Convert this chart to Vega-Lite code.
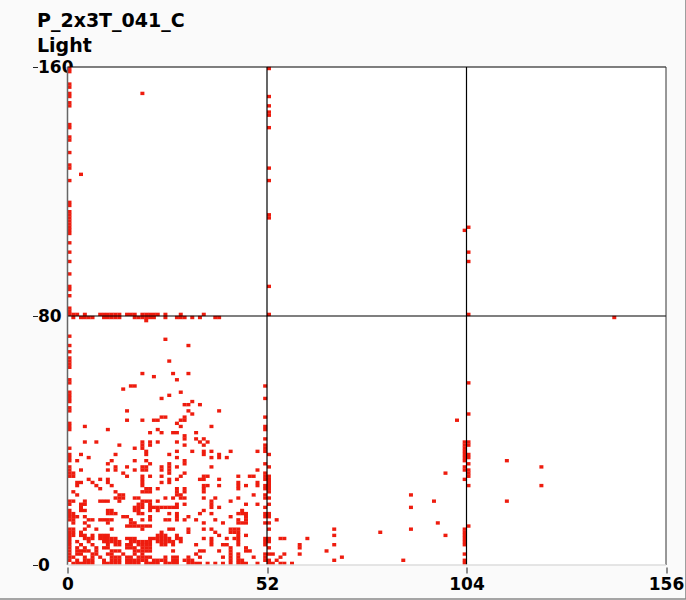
{"$schema":"https://vega.github.io/schema/vega-lite/v6.json","width":598.5,"height":498,"autosize":"none","padding":{"left":67.5,"top":67,"right":20,"bottom":35},"background":"#fafafa","title":{"text":["P_2x3T_041_C","Light"],"anchor":"start","frame":"group","dx":-30.5,"offset":-76,"font":"DejaVu Sans","fontSize":19,"fontWeight":"bold","color":"#000000","lineHeight":25,"baseline":"bottom"},"config":{"view":{"stroke":null}},
"layer":[
{"mark":{"type":"rect","fill":"#ffffff","clip":false},"data":{"values":[{"a":0,"b":156,"c":0,"d":160}]},"encoding":{"x":{"field":"a","type":"quantitative","scale":{"domain":[0,156],"nice":false,"zero":false},"axis":{"values":[0,52,104,156],"title":null,"grid":false,"domain":false,"offset":2,"tickSize":6,"tickColor":"#222222","labelFont":"DejaVu Sans","labelFontWeight":"bold","labelFontSize":17,"labelColor":"#000000","labelPadding":3,"labelFlush":false,"labelOverlap":false,"zindex":0}},"x2":{"field":"b"},"y":{"field":"c","type":"quantitative","scale":{"domain":[0,160],"nice":false,"zero":false},"axis":{"values":[0,80,160],"title":null,"grid":false,"domain":false,"offset":30,"tickSize":5,"tickColor":"#222222","labelFont":"DejaVu Sans","labelFontWeight":"bold","labelFontSize":17,"labelColor":"#000000","labelAlign":"left","labelPadding":-5,"labelFlush":false,"labelOverlap":false,"zindex":0}},"y2":{"field":"d"}}},
{"mark":{"type":"rect","width":4.0,"height":3.4,"xOffset":2.0,"yOffset":-1.6,"fill":"#ee1c0e","stroke":null},"data":{"values":[
{"c":1,"r":0},{"c":2,"r":0},{"c":3,"r":0},{"c":4,"r":0},{"c":5,"r":0},{"c":6,"r":0},{"c":9,"r":0},{"c":10,"r":0},{"c":11,"r":0},{"c":12,"r":0},{"c":13,"r":0},{"c":15,"r":0},{"c":16,"r":0},{"c":17,"r":0},{"c":18,"r":0},{"c":20,"r":0},{"c":21,"r":0},{"c":22,"r":0},{"c":23,"r":0},{"c":25,"r":0},{"c":26,"r":0},{"c":27,"r":0},{"c":28,"r":0},{"c":31,"r":0},{"c":32,"r":0},{"c":33,"r":0},{"c":34,"r":0},{"c":36,"r":0},{"c":38,"r":0},{"c":40,"r":0},{"c":42,"r":0},{"c":44,"r":0},{"c":45,"r":0},{"c":46,"r":0},{"c":49,"r":0},{"c":52,"r":0},{"c":53,"r":0},{"c":55,"r":0},{"c":56,"r":0},{"c":58,"r":0},{"c":103,"r":0},
{"c":0,"r":1},{"c":2,"r":1},{"c":4,"r":1},{"c":5,"r":1},{"c":6,"r":1},{"c":9,"r":1},{"c":11,"r":1},{"c":12,"r":1},{"c":13,"r":1},{"c":15,"r":1},{"c":16,"r":1},{"c":17,"r":1},{"c":18,"r":1},{"c":19,"r":1},{"c":20,"r":1},{"c":22,"r":1},{"c":23,"r":1},{"c":24,"r":1},{"c":25,"r":1},{"c":27,"r":1},{"c":28,"r":1},{"c":30,"r":1},{"c":31,"r":1},{"c":32,"r":1},{"c":42,"r":1},{"c":44,"r":1},{"c":45,"r":1},{"c":51,"r":1},{"c":52,"r":1},{"c":54,"r":1},{"c":69,"r":1},{"c":87,"r":1},{"c":103,"r":1},
{"c":0,"r":2},{"c":1,"r":2},{"c":4,"r":2},{"c":6,"r":2},{"c":8,"r":2},{"c":11,"r":2},{"c":12,"r":2},{"c":13,"r":2},{"c":15,"r":2},{"c":16,"r":2},{"c":18,"r":2},{"c":19,"r":2},{"c":20,"r":2},{"c":21,"r":2},{"c":25,"r":2},{"c":27,"r":2},{"c":28,"r":2},{"c":31,"r":2},{"c":34,"r":2},{"c":40,"r":2},{"c":42,"r":2},{"c":44,"r":2},{"c":48,"r":2},{"c":51,"r":2},{"c":55,"r":2},{"c":71,"r":2},
{"c":0,"r":3},{"c":2,"r":3},{"c":3,"r":3},{"c":6,"r":3},{"c":7,"r":3},{"c":10,"r":3},{"c":11,"r":3},{"c":14,"r":3},{"c":17,"r":3},{"c":19,"r":3},{"c":33,"r":3},{"c":42,"r":3},{"c":44,"r":3},{"c":51,"r":3},{"c":52,"r":3},{"c":53,"r":3},{"c":56,"r":3},{"c":60,"r":3},{"c":103,"r":3},
{"c":0,"r":4},{"c":2,"r":4},{"c":3,"r":4},{"c":4,"r":4},{"c":5,"r":4},{"c":7,"r":4},{"c":11,"r":4},{"c":12,"r":4},{"c":13,"r":4},{"c":17,"r":4},{"c":18,"r":4},{"c":19,"r":4},{"c":20,"r":4},{"c":21,"r":4},{"c":27,"r":4},{"c":34,"r":4},{"c":35,"r":4},{"c":39,"r":4},{"c":42,"r":4},{"c":46,"r":4},{"c":47,"r":4},{"c":67,"r":4},
{"c":0,"r":5},{"c":2,"r":5},{"c":4,"r":5},{"c":7,"r":5},{"c":9,"r":5},{"c":10,"r":5},{"c":15,"r":5},{"c":16,"r":5},{"c":17,"r":5},{"c":19,"r":5},{"c":20,"r":5},{"c":21,"r":5},{"c":42,"r":5},{"c":46,"r":5},{"c":52,"r":5},{"c":60,"r":5},
{"c":0,"r":6},{"c":3,"r":6},{"c":6,"r":6},{"c":10,"r":6},{"c":12,"r":6},{"c":13,"r":6},{"c":15,"r":6},{"c":16,"r":6},{"c":18,"r":6},{"c":19,"r":6},{"c":20,"r":6},{"c":21,"r":6},{"c":24,"r":6},{"c":25,"r":6},{"c":27,"r":6},{"c":33,"r":6},{"c":37,"r":6},{"c":40,"r":6},{"c":41,"r":6},{"c":44,"r":6},{"c":51,"r":6},{"c":60,"r":6},{"c":69,"r":6},{"c":103,"r":6},
{"c":0,"r":7},{"c":2,"r":7},{"c":5,"r":7},{"c":9,"r":7},{"c":10,"r":7},{"c":11,"r":7},{"c":12,"r":7},{"c":13,"r":7},{"c":16,"r":7},{"c":17,"r":7},{"c":18,"r":7},{"c":19,"r":7},{"c":20,"r":7},{"c":21,"r":7},{"c":23,"r":7},{"c":24,"r":7},{"c":25,"r":7},{"c":26,"r":7},{"c":27,"r":7},{"c":29,"r":7},{"c":37,"r":7},{"c":44,"r":7},{"c":51,"r":7},{"c":52,"r":7},{"c":103,"r":7},
{"c":0,"r":8},{"c":4,"r":8},{"c":5,"r":8},{"c":6,"r":8},{"c":8,"r":8},{"c":9,"r":8},{"c":10,"r":8},{"c":11,"r":8},{"c":12,"r":8},{"c":15,"r":8},{"c":16,"r":8},{"c":17,"r":8},{"c":21,"r":8},{"c":22,"r":8},{"c":23,"r":8},{"c":24,"r":8},{"c":25,"r":8},{"c":26,"r":8},{"c":28,"r":8},{"c":29,"r":8},{"c":35,"r":8},{"c":37,"r":8},{"c":41,"r":8},{"c":43,"r":8},{"c":44,"r":8},{"c":51,"r":8},{"c":52,"r":8},{"c":55,"r":8},{"c":56,"r":8},{"c":62,"r":8},{"c":103,"r":8},
{"c":0,"r":9},{"c":1,"r":9},{"c":3,"r":9},{"c":4,"r":9},{"c":6,"r":9},{"c":8,"r":9},{"c":9,"r":9},{"c":10,"r":9},{"c":23,"r":9},{"c":24,"r":9},{"c":25,"r":9},{"c":28,"r":9},{"c":39,"r":9},{"c":44,"r":9},{"c":46,"r":9},{"c":69,"r":9},{"c":98,"r":9},{"c":103,"r":9},
{"c":0,"r":10},{"c":1,"r":10},{"c":3,"r":10},{"c":24,"r":10},{"c":31,"r":10},{"c":38,"r":10},{"c":42,"r":10},{"c":43,"r":10},{"c":44,"r":10},{"c":81,"r":10},{"c":103,"r":10},
{"c":0,"r":11},{"c":1,"r":11},{"c":4,"r":11},{"c":7,"r":11},{"c":11,"r":11},{"c":19,"r":11},{"c":26,"r":11},{"c":27,"r":11},{"c":31,"r":11},{"c":35,"r":11},{"c":37,"r":11},{"c":42,"r":11},{"c":43,"r":11},{"c":44,"r":11},{"c":52,"r":11},{"c":69,"r":11},{"c":89,"r":11},{"c":103,"r":11},
{"c":5,"r":12},{"c":15,"r":12},{"c":16,"r":12},{"c":17,"r":12},{"c":18,"r":12},{"c":19,"r":12},{"c":20,"r":12},{"c":21,"r":12},{"c":104,"r":12},
{"c":1,"r":13},{"c":4,"r":13},{"c":10,"r":13},{"c":16,"r":13},{"c":17,"r":13},{"c":35,"r":13},{"c":40,"r":13},{"c":44,"r":13},{"c":45,"r":13},{"c":46,"r":13},{"c":51,"r":13},{"c":52,"r":13},{"c":96,"r":13},
{"c":0,"r":14},{"c":1,"r":14},{"c":5,"r":14},{"c":6,"r":14},{"c":8,"r":14},{"c":9,"r":14},{"c":10,"r":14},{"c":11,"r":14},{"c":16,"r":14},{"c":19,"r":14},{"c":21,"r":14},{"c":25,"r":14},{"c":26,"r":14},{"c":28,"r":14},{"c":30,"r":14},{"c":33,"r":14},{"c":38,"r":14},{"c":44,"r":14},{"c":46,"r":14},{"c":54,"r":14},
{"c":0,"r":15},{"c":1,"r":15},{"c":2,"r":15},{"c":4,"r":15},{"c":14,"r":15},{"c":15,"r":15},{"c":21,"r":15},{"c":28,"r":15},{"c":31,"r":15},{"c":42,"r":15},{"c":46,"r":15},{"c":51,"r":15},{"c":52,"r":15},
{"c":0,"r":16},{"c":1,"r":16},{"c":10,"r":16},{"c":11,"r":16},{"c":12,"r":16},{"c":18,"r":16},{"c":19,"r":16},{"c":26,"r":16},{"c":28,"r":16},{"c":34,"r":16},{"c":37,"r":16},{"c":44,"r":16},{"c":45,"r":16},{"c":46,"r":16},{"c":51,"r":16},{"c":52,"r":16},
{"c":0,"r":17},{"c":3,"r":17},{"c":4,"r":17},{"c":10,"r":17},{"c":11,"r":17},{"c":17,"r":17},{"c":18,"r":17},{"c":21,"r":17},{"c":23,"r":17},{"c":35,"r":17},{"c":45,"r":17},
{"c":3,"r":18},{"c":17,"r":18},{"c":18,"r":18},{"c":19,"r":18},{"c":21,"r":18},{"c":22,"r":18},{"c":23,"r":18},{"c":24,"r":18},{"c":25,"r":18},{"c":26,"r":18},{"c":27,"r":18},{"c":28,"r":18},{"c":37,"r":18},{"c":39,"r":18},{"c":51,"r":18},{"c":89,"r":18},
{"c":0,"r":19},{"c":3,"r":19},{"c":4,"r":19},{"c":18,"r":19},{"c":19,"r":19},{"c":21,"r":19},{"c":28,"r":19},{"c":30,"r":19},{"c":37,"r":19},{"c":46,"r":19},{"c":49,"r":19},{"c":52,"r":19},
{"c":0,"r":20},{"c":1,"r":20},{"c":4,"r":20},{"c":8,"r":20},{"c":9,"r":20},{"c":10,"r":20},{"c":13,"r":20},{"c":19,"r":20},{"c":20,"r":20},{"c":21,"r":20},{"c":23,"r":20},{"c":37,"r":20},{"c":42,"r":20},{"c":95,"r":20},{"c":114,"r":20},
{"c":12,"r":21},{"c":13,"r":21},{"c":14,"r":21},{"c":17,"r":21},{"c":18,"r":21},{"c":25,"r":21},{"c":27,"r":21},{"c":29,"r":21},{"c":30,"r":21},{"c":35,"r":21},{"c":38,"r":21},{"c":44,"r":21},{"c":51,"r":21},{"c":52,"r":21},
{"c":2,"r":22},{"c":13,"r":22},{"c":14,"r":22},{"c":28,"r":22},{"c":29,"r":22},{"c":48,"r":22},{"c":51,"r":22},{"c":89,"r":22},
{"c":1,"r":23},{"c":12,"r":23},{"c":19,"r":23},{"c":20,"r":23},{"c":21,"r":23},{"c":28,"r":23},{"c":30,"r":23},{"c":35,"r":23},{"c":52,"r":23},
{"c":8,"r":24},{"c":20,"r":24},{"c":21,"r":24},{"c":23,"r":24},{"c":28,"r":24},{"c":30,"r":24},{"c":35,"r":24},{"c":44,"r":24},{"c":51,"r":24},{"c":52,"r":24},
{"c":2,"r":25},{"c":7,"r":25},{"c":11,"r":25},{"c":19,"r":25},{"c":35,"r":25},{"c":36,"r":25},{"c":39,"r":25},{"c":44,"r":25},{"c":46,"r":25},{"c":49,"r":25},{"c":51,"r":25},{"c":52,"r":25},{"c":104,"r":25},{"c":123,"r":25},
{"c":2,"r":26},{"c":3,"r":26},{"c":6,"r":26},{"c":10,"r":26},{"c":19,"r":26},{"c":24,"r":26},{"c":26,"r":26},{"c":44,"r":26},{"c":49,"r":26},{"c":52,"r":26},
{"c":5,"r":27},{"c":8,"r":27},{"c":10,"r":27},{"c":19,"r":27},{"c":26,"r":27},{"c":28,"r":27},{"c":34,"r":27},{"c":35,"r":27},{"c":39,"r":27},{"c":51,"r":27},{"c":52,"r":27},{"c":103,"r":27},
{"c":0,"r":28},{"c":1,"r":28},{"c":15,"r":28},{"c":19,"r":28},{"c":21,"r":28},{"c":24,"r":28},{"c":29,"r":28},{"c":35,"r":28},{"c":36,"r":28},{"c":44,"r":28},{"c":47,"r":28},{"c":48,"r":28},{"c":51,"r":28},{"c":52,"r":28},{"c":104,"r":28},
{"c":0,"r":29},{"c":1,"r":29},{"c":14,"r":29},{"c":26,"r":29},{"c":30,"r":29},{"c":51,"r":29},{"c":98,"r":29},{"c":104,"r":29},
{"c":0,"r":30},{"c":3,"r":30},{"c":10,"r":30},{"c":12,"r":30},{"c":17,"r":30},{"c":19,"r":30},{"c":20,"r":30},{"c":24,"r":30},{"c":26,"r":30},{"c":49,"r":30},{"c":103,"r":30},{"c":104,"r":30},
{"c":0,"r":31},{"c":12,"r":31},{"c":15,"r":31},{"c":19,"r":31},{"c":20,"r":31},{"c":24,"r":31},{"c":26,"r":31},{"c":28,"r":31},{"c":37,"r":31},{"c":52,"r":31},{"c":103,"r":31},{"c":123,"r":31},
{"c":10,"r":32},{"c":21,"r":32},{"c":26,"r":32},{"c":30,"r":32},{"c":51,"r":32},{"c":104,"r":32},
{"c":0,"r":33},{"c":2,"r":33},{"c":11,"r":33},{"c":17,"r":33},{"c":20,"r":33},{"c":30,"r":33},{"c":103,"r":33},{"c":114,"r":33},
{"c":0,"r":34},{"c":5,"r":34},{"c":28,"r":34},{"c":37,"r":34},{"c":39,"r":34},{"c":41,"r":34},{"c":103,"r":34},{"c":104,"r":34},
{"c":0,"r":35},{"c":3,"r":35},{"c":12,"r":35},{"c":20,"r":35},{"c":26,"r":35},{"c":35,"r":35},{"c":39,"r":35},{"c":52,"r":35},{"c":103,"r":35},{"c":104,"r":35},
{"c":20,"r":36},{"c":28,"r":36},{"c":32,"r":36},{"c":35,"r":36},{"c":37,"r":36},{"c":42,"r":36},{"c":49,"r":36},{"c":51,"r":36},{"c":103,"r":36},
{"c":0,"r":37},{"c":17,"r":37},{"c":19,"r":37},{"c":51,"r":37},{"c":103,"r":37},
{"c":13,"r":38},{"c":19,"r":38},{"c":21,"r":38},{"c":30,"r":38},{"c":35,"r":38},{"c":51,"r":38},{"c":103,"r":38},{"c":104,"r":38},
{"c":4,"r":39},{"c":7,"r":39},{"c":19,"r":39},{"c":21,"r":39},{"c":23,"r":39},{"c":28,"r":39},{"c":34,"r":39},{"c":36,"r":39},{"c":103,"r":39},{"c":104,"r":39},
{"c":30,"r":40},{"c":33,"r":40},{"c":35,"r":40},{"c":51,"r":40},{"c":30,"r":41},
{"c":21,"r":42},{"c":24,"r":42},{"c":27,"r":42},{"c":28,"r":42},{"c":33,"r":42},
{"c":0,"r":43},{"c":10,"r":43},{"c":23,"r":43},{"c":51,"r":43},
{"c":0,"r":44},{"c":4,"r":44},{"c":29,"r":44},{"c":37,"r":44},{"c":51,"r":44},
{"c":0,"r":45},{"c":28,"r":45},
{"c":15,"r":46},{"c":19,"r":46},{"c":22,"r":46},{"c":23,"r":46},{"c":29,"r":46},{"c":30,"r":46},{"c":101,"r":46},
{"c":24,"r":47},{"c":25,"r":47},{"c":30,"r":47},{"c":51,"r":47},
{"c":32,"r":48},{"c":104,"r":48},
{"c":0,"r":49},{"c":15,"r":49},{"c":31,"r":49},{"c":39,"r":49},
{"c":0,"r":50},{"c":30,"r":51},{"c":31,"r":51},{"c":34,"r":51},
{"c":0,"r":52},{"c":32,"r":52},{"c":0,"r":53},{"c":24,"r":53},{"c":51,"r":53},{"c":0,"r":54},{"c":26,"r":54},{"c":0,"r":55},{"c":29,"r":55},{"c":14,"r":56},{"c":16,"r":57},{"c":17,"r":57},{"c":51,"r":57},{"c":0,"r":58},{"c":104,"r":58},{"c":0,"r":59},{"c":28,"r":59},{"c":22,"r":60},{"c":19,"r":61},{"c":27,"r":61},{"c":31,"r":61},
{"c":0,"r":63},{"c":0,"r":64},{"c":0,"r":65},{"c":26,"r":65},{"c":0,"r":66},{"c":0,"r":68},{"c":0,"r":70},{"c":31,"r":70},{"c":25,"r":72},{"c":0,"r":73},{"c":20,"r":78},
{"c":1,"r":79},{"c":3,"r":79},{"c":4,"r":79},{"c":5,"r":79},{"c":6,"r":79},{"c":9,"r":79},{"c":10,"r":79},{"c":11,"r":79},{"c":12,"r":79},{"c":13,"r":79},{"c":17,"r":79},{"c":18,"r":79},{"c":19,"r":79},{"c":20,"r":79},{"c":21,"r":79},{"c":22,"r":79},{"c":25,"r":79},{"c":28,"r":79},{"c":29,"r":79},{"c":30,"r":79},{"c":32,"r":79},{"c":34,"r":79},{"c":38,"r":79},{"c":39,"r":79},{"c":142,"r":79},
{"c":0,"r":80},{"c":1,"r":80},{"c":2,"r":80},{"c":4,"r":80},{"c":8,"r":80},{"c":9,"r":80},{"c":10,"r":80},{"c":11,"r":80},{"c":12,"r":80},{"c":13,"r":80},{"c":15,"r":80},{"c":16,"r":80},{"c":17,"r":80},{"c":19,"r":80},{"c":20,"r":80},{"c":21,"r":80},{"c":22,"r":80},{"c":23,"r":80},{"c":25,"r":80},{"c":29,"r":80},{"c":35,"r":80},{"c":52,"r":80},{"c":104,"r":80},
{"c":0,"r":81},{"c":0,"r":82},{"c":0,"r":86},{"c":0,"r":88},{"c":0,"r":89},{"c":52,"r":89},{"c":0,"r":93},{"c":0,"r":97},{"c":104,"r":97},{"c":0,"r":100},{"c":104,"r":100},{"c":0,"r":103},
{"c":0,"r":106},{"c":0,"r":107},{"c":103,"r":107},{"c":0,"r":108},{"c":104,"r":108},{"c":0,"r":109},{"c":0,"r":110},{"c":0,"r":111},{"c":52,"r":111},{"c":0,"r":112},{"c":52,"r":112},{"c":0,"r":113},{"c":0,"r":115},{"c":0,"r":116},{"c":0,"r":123},{"c":52,"r":123},{"c":3,"r":125},{"c":0,"r":127},{"c":52,"r":127},{"c":0,"r":128},{"c":0,"r":132},{"c":0,"r":136},{"c":0,"r":137},{"c":0,"r":140},{"c":52,"r":140},{"c":0,"r":141},{"c":52,"r":144},{"c":52,"r":145},{"c":0,"r":147},{"c":52,"r":147},{"c":0,"r":148},{"c":0,"r":150},{"c":52,"r":150},{"c":0,"r":151},{"c":19,"r":151},{"c":0,"r":153},{"c":0,"r":154},{"c":0,"r":158},{"c":0,"r":159},{"c":52,"r":159}
]},"encoding":{"x":{"field":"c","type":"quantitative"},"y":{"field":"r","type":"quantitative"}}},
{"mark":{"type":"rule","color":"#000000","strokeWidth":1.2},"data":{"values":[{"p":52},{"p":104}]},"encoding":{"x":{"field":"p","type":"quantitative"}}},
{"mark":{"type":"rule","color":"#000000","strokeWidth":1.2},"data":{"values":[{"q":80},{"q":160}]},"encoding":{"y":{"field":"q","type":"quantitative"}}},
{"mark":{"type":"rule","color":"#666666","strokeWidth":1.5},"data":{"values":[{"p":0}]},"encoding":{"x":{"field":"p","type":"quantitative"}}},
{"mark":{"type":"rule","color":"#333333","strokeWidth":1},"data":{"values":[{"p":156}]},"encoding":{"x":{"field":"p","type":"quantitative"}}},
{"mark":{"type":"rule","color":"#dddddd","strokeWidth":1.5},"data":{"values":[{"q":0}]},"encoding":{"y":{"field":"q","type":"quantitative"}}},
{"mark":{"type":"rule","color":"#888888","strokeWidth":1.5,"clip":false},"data":{"values":[{"a":-17.6,"b":161.2,"q":-10.9}]},"encoding":{"x":{"field":"a","type":"quantitative"},"x2":{"field":"b"},"y":{"field":"q","type":"quantitative"}}},
{"mark":{"type":"rule","color":"#888888","strokeWidth":1.5,"clip":false},"data":{"values":[{"p":161.2,"s":-10.9,"t":181.5}]},"encoding":{"x":{"field":"p","type":"quantitative"},"y":{"field":"s","type":"quantitative"},"y2":{"field":"t"}}}
]}
